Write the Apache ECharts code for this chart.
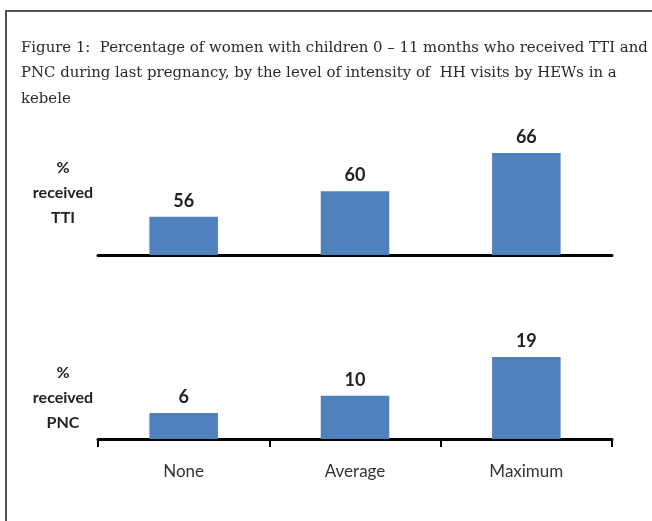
<!DOCTYPE html>
<html>
<head>
<meta charset="utf-8">
<script src="https://cdn.jsdelivr.net/npm/echarts@6/dist/echarts.min.js"></script>
<style>
  html, body { margin: 0; padding: 0; background: #fff; }
  #chart { width: 652px; height: 521px; }
</style>
</head>
<body>
<div id="chart"></div>
<script>
const categories = ['None', 'Average', 'Maximum'];
const ttiValues = [56, 60, 66];
const pncValues = [6, 10, 19];
const titleText = 'Figure 1:  Percentage of women with children 0 \u2013 11 months who received TTI and\nPNC during last pregnancy, by the level of intensity of  HH visits by HEWs in a\nkebele';

const barColor = '#4f81bd';
const labelFont = 'Lato, "DejaVu Sans", sans-serif';

const chart = echarts.init(document.getElementById('chart'));

function hiddenY(min, max, gridIndex) {
    return {
        type: 'value', gridIndex: gridIndex, min: min, max: max,
        axisLine: { show: false }, axisTick: { show: false },
        axisLabel: { show: false }, splitLine: { show: false }
    };
}

function barSeries(data, idx) {
    return {
        type: 'bar', xAxisIndex: idx, yAxisIndex: idx,
        data: data, barWidth: '40%',
        itemStyle: { color: barColor },
        label: {
            show: true, position: 'top', distance: 7,
            color: '#222', fontFamily: labelFont, fontWeight: 'bold', fontSize: 18
        }
    };
}

chart.setOption({
    animation: false,
    title: {
        text: titleText,
        left: 16, top: 30,
        textStyle: {
            fontFamily: '"DejaVu Serif", serif',
            fontWeight: 'normal', fontSize: 14.9, lineHeight: 25.5, color: '#2a2a2a'
        }
    },
    graphic: [
        {
            type: 'rect', shape: { x: 6, y: 11, width: 700, height: 600 },
            style: { fill: null, stroke: '#555', lineWidth: 2 }, silent: true
        },
        {
            type: 'text', x: 63, y: 193,
            style: {
                text: '%\nreceived\nTTI', align: 'center', verticalAlign: 'middle',
                fontFamily: labelFont, fontWeight: 'bold', fontSize: 16, lineHeight: 25, fill: '#222'
            }
        },
        {
            type: 'text', x: 63, y: 398,
            style: {
                text: '%\nreceived\nPNC', align: 'center', verticalAlign: 'middle',
                fontFamily: labelFont, fontWeight: 'bold', fontSize: 16, lineHeight: 25, fill: '#222'
            }
        }
    ],
    grid: [
        { left: 98, right: 40, top: 127.5, height: 127.5 },
        { left: 98, right: 40, top: 331, height: 108 }
    ],
    xAxis: [
        {
            type: 'category', gridIndex: 0, data: categories,
            axisLine: { lineStyle: { color: '#000', width: 3 } },
            axisTick: { show: false }, axisLabel: { show: false }
        },
        {
            type: 'category', gridIndex: 1, data: categories,
            axisLine: { lineStyle: { color: '#000', width: 3 } },
            axisTick: { show: true, length: 8, lineStyle: { color: '#000', width: 2 } },
            axisLabel: { margin: 24, color: '#333', fontFamily: labelFont, fontSize: 17 }
        }
    ],
    yAxis: [hiddenY(50, 70, 0), hiddenY(0, 25, 1)],
    series: [barSeries(ttiValues, 0), barSeries(pncValues, 1)]
});
</script>
</body>
</html>
